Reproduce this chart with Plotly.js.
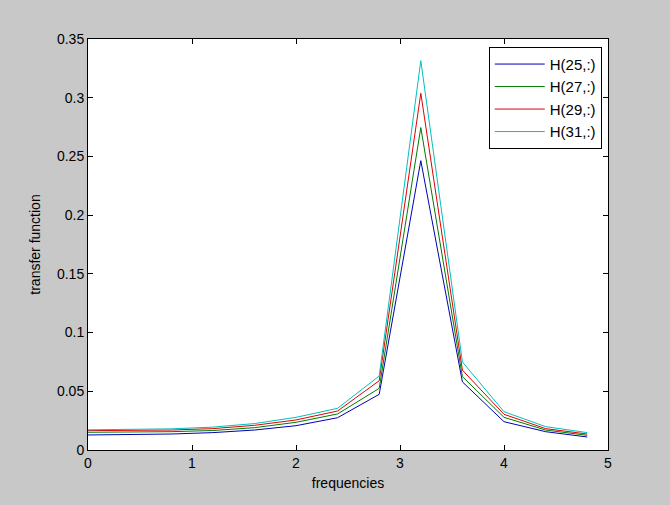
<!DOCTYPE html>
<html>
<head>
<meta charset="utf-8">
<script src="https://cdn.plot.ly/plotly-3.0.1.min.js"></script>
<style>html,body{margin:0;padding:0;background:#c8c8c8;}</style>
</head>
<body>
<div id="chart" style="width:670px;height:505px;"></div>
<script>
const frequencies = [0, 0.4, 0.8, 1.2, 1.6, 2.0, 2.4, 2.8, 3.2, 3.6, 4.0, 4.4, 4.8];
const H25 = [0.0128, 0.0130, 0.0136, 0.0148, 0.0170, 0.0207, 0.0275, 0.0474, 0.2464, 0.0580, 0.0241, 0.0156, 0.0111];
const H27 = [0.0151, 0.0152, 0.0156, 0.0166, 0.0190, 0.0236, 0.0307, 0.0525, 0.2746, 0.0625, 0.0278, 0.0170, 0.0125];
const H29 = [0.0165, 0.0166, 0.0170, 0.0182, 0.0210, 0.0256, 0.0332, 0.0590, 0.3038, 0.0680, 0.0304, 0.0182, 0.0136];
const H31 = [0.0172, 0.0174, 0.0180, 0.0195, 0.0225, 0.0278, 0.0355, 0.0630, 0.3316, 0.0750, 0.0326, 0.0199, 0.0148];
const seriesNames = ['H(25,:)', 'H(27,:)', 'H(29,:)', 'H(31,:)'];
const seriesValues = [H25, H27, H29, H31];
const colors = ['#0000b4', '#007a00', '#e00000', '#00bfbf'];

const traces = seriesValues.map((v, i) => ({
  x: frequencies, y: v, type: 'scatter', mode: 'lines', name: seriesNames[i],
  line: {color: colors[i], width: 1}
}));

const font = {family: 'Liberation Sans, Arial, sans-serif', size: 14, color: '#000'};
const axisCommon = {
  showline: true, linecolor: '#000', linewidth: 1, mirror: 'ticks',
  ticks: 'inside', ticklen: 5, tickcolor: '#000', showgrid: false, zeroline: false,
  tickfont: font
};
const layout = {
  width: 670, height: 505,
  paper_bgcolor: '#c8c8c8', plot_bgcolor: '#ffffff',
  margin: {l: 88, r: 62, t: 39, b: 55},
  font: font,
  showlegend: true,
  legend: {x: 0.988, y: 0.981, xanchor: 'right', yanchor: 'top',
           bgcolor: '#ffffff', bordercolor: '#000', borderwidth: 1,
           itemwidth: 50,
           font: {family: 'Liberation Sans, Arial, sans-serif', size: 15, color: '#000'},
           tracegroupgap: 0},
  xaxis: Object.assign({}, axisCommon, {range: [0, 5], dtick: 1, tick0: 0,
          title: {text: 'frequencies', font: font, standoff: 8}}),
  yaxis: Object.assign({}, axisCommon, {range: [0, 0.35], dtick: 0.05, tick0: 0,
          title: {text: 'transfer function', font: font, standoff: 13}})
};
Plotly.newPlot('chart', traces, layout, {displayModeBar: false, staticPlot: true});
</script>
</body>
</html>
